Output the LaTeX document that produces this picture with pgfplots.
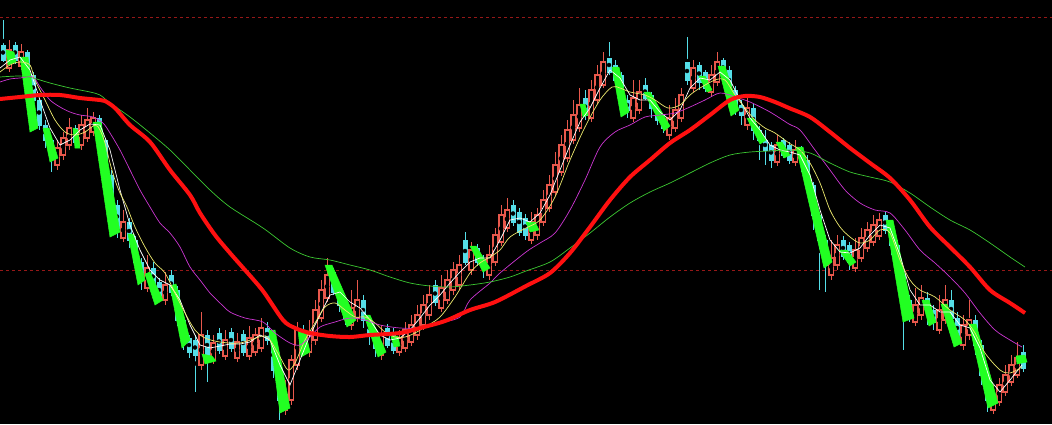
\documentclass[border=0pt]{standalone}
\usepackage{pgfplots}
\pgfplotsset{compat=1.18}
\usepackage{pgfplotstable}

\definecolor{candleup}{RGB}{232,88,76}
\definecolor{candledn}{RGB}{84,222,232}
\definecolor{band}{RGB}{34,255,34}
\definecolor{maw}{RGB}{255,255,255}
\definecolor{may}{RGB}{236,232,110}
\definecolor{mam}{RGB}{204,54,210}
\definecolor{mag}{RGB}{60,200,50}
\definecolor{mar}{RGB}{255,16,16}
\definecolor{level}{RGB}{150,24,24}

% rising candles (open, close, high, low in chart units, y grows downward)
\pgfplotstableread{
x o c h l
9 68 50 40 72
21 66 52 44 70
57 165 148 140 170
63 155 138 132 160
69 145 128 118 150
81 145 125 115 150
87 138 120 108 142
93 132 118 112 136
123 238 222 210 242
147 288 268 255 292
165 300 285 272 305
201 365 335 312 370
213 360 343 335 364
225 356 340 330 360
237 358 342 333 362
249 356 338 326 360
255 352 335 328 356
261 348 328 318 352
285 410 395 380 415
291 400 360 355 405
297 365 330 322 370
309 352 335 320 357
315 340 310 300 345
321 318 290 280 322
327 298 275 258 302
351 325 308 290 330
357 318 300 280 322
381 355 335 325 360
399 352 338 330 356
405 348 330 322 352
411 342 325 315 346
417 335 315 305 340
423 325 305 295 330
429 315 295 285 320
441 308 288 275 312
447 300 280 270 304
453 290 270 262 295
459 285 265 255 290
471 270 250 242 275
489 275 255 245 280
495 262 235 228 266
501 242 215 205 246
507 228 210 198 232
531 240 222 212 244
537 235 215 208 240
543 222 200 190 226
549 208 185 175 212
555 192 165 152 196
561 172 145 135 176
567 158 130 120 162
573 140 115 100 144
579 128 105 88 132
591 118 90 80 122
597 100 75 65 104
603 85 62 52 88
633 118 98 80 122
639 110 92 80 114
669 135 118 105 140
675 128 110 98 132
681 118 95 88 122
693 88 68 60 92
711 92 75 65 96
717 82 62 52 86
747 125 108 98 130
777 162 145 135 166
795 162 150 140 166
831 275 258 240 280
837 265 245 235 270
855 268 250 238 272
861 258 238 228 262
867 248 230 222 252
873 242 225 215 246
879 236 220 213 240
915 322 305 288 326
921 315 298 285 320
939 330 310 295 334
945 320 300 285 324
963 345 325 315 350
969 335 320 300 340
993 410 395 385 414
999 402 385 378 406
1005 392 375 365 396
1011 382 365 355 386
1017 375 358 342 378
}\upc

% falling candles
\pgfplotstableread{
x o c h l
3 45 60 20 62
15 45 60 42 64
27 52 75 50 78
33 75 100 72 104
39 100 125 98 130
45 125 140 120 148
51 140 155 138 172
75 128 142 125 148
99 118 140 115 145
105 140 175 138 178
111 175 205 170 210
117 205 228 200 238
129 222 240 218 248
135 240 262 236 268
141 262 280 258 290
153 268 285 262 298
159 282 298 278 302
171 275 292 270 296
177 290 320 286 326
183 320 342 318 350
189 338 352 335 358
195 340 355 335 392
207 335 355 330 382
219 333 350 328 354
231 332 348 328 352
243 334 352 330 356
267 328 340 322 345
273 340 370 336 378
279 370 400 366 420
303 330 345 325 356
333 272 292 268 295
339 290 305 286 312
345 305 318 300 325
363 300 320 295 328
369 320 335 316 345
375 335 348 330 357
387 328 345 324 348
393 332 350 328 354
435 285 302 280 306
465 240 262 232 265
477 248 262 244 266
483 260 268 255 278
513 205 222 200 226
519 212 232 208 236
525 218 235 214 240
585 98 115 90 120
609 58 72 42 75
615 65 80 60 85
621 75 100 72 110
627 100 110 95 118
645 85 98 78 100
651 95 108 92 118
657 108 120 105 125
663 120 128 115 133
687 62 80 37 85
699 65 82 62 90
705 72 88 70 92
723 60 75 58 80
729 70 90 66 95
735 90 105 86 115
741 105 115 100 125
753 108 130 104 140
759 130 140 126 160
765 140 150 130 165
771 145 160 142 168
783 140 155 138 158
789 145 160 142 164
801 150 160 146 172
807 160 185 155 195
813 185 215 182 230
819 215 240 212 290
825 240 265 235 292
843 240 256 236 260
849 245 262 242 270
885 215 230 212 234
891 225 245 220 255
897 245 275 240 285
903 275 300 270 350
909 300 315 295 322
927 298 310 292 325
933 310 322 305 330
951 300 318 290 328
957 318 338 312 345
975 320 345 315 355
981 345 375 340 385
987 375 400 370 412
1023 352 368 345 372
}\dnc

\pgfplotsset{
  wick/.style={only marks, mark=none,
    error bars/.cd, y dir=both, y explicit, error mark=none,
    error bar style={line width=1pt, draw=#1}},
  body/.style 2 args={only marks, mark=none,
    error bars/.cd, y dir=both, y explicit, error mark=none,
    error bar style={line width=#2, draw=#1}},
  bandfill/.style={fill=band, draw=band, line width=0.5pt, mark=none},
}

\begin{document}
\begin{tikzpicture}
\begin{axis}[
  scale only axis, width=1052pt, height=424pt,
  xmin=0, xmax=1052, ymin=0, ymax=424, y dir=reverse,
  hide axis, clip=true, no markers, clip marker paths=true,
]
\fill[black] (axis cs:0,0) rectangle (axis cs:1052,424);

% price levels
\addplot[level, line width=0.8pt, dash pattern=on 3pt off 3pt] coordinates {(0,17) (1052,17)};
\addplot[level, line width=0.8pt, dash pattern=on 3pt off 3pt] coordinates {(0,270) (1052,270)};

% falling candles: cyan, filled
\addplot[wick=candledn] table[x=x, y expr={(\thisrow{h}+\thisrow{l})/2}, y error expr={(\thisrow{l}-\thisrow{h})/2}] \dnc;
\addplot[body={candledn}{5pt}] table[x=x, y expr={(\thisrow{o}+\thisrow{c})/2}, y error expr={abs(\thisrow{o}-\thisrow{c})/2+0.5}] \dnc;

% rising candles: red, hollow
\addplot[wick=candleup] table[x=x, y expr={(\thisrow{h}+\thisrow{l})/2}, y error expr={(\thisrow{l}-\thisrow{h})/2}] \upc;
\addplot[body={candleup}{5.4pt}] table[x=x, y expr={(\thisrow{o}+\thisrow{c})/2}, y error expr={abs(\thisrow{o}-\thisrow{c})/2+0.6}] \upc;
\addplot[body={black}{3pt}] table[x=x, y expr={(\thisrow{o}+\thisrow{c})/2}, y error expr={max(abs(\thisrow{o}-\thisrow{c})/2-0.6,0)}] \upc;

% selling-pressure bands
\addplot[bandfill] coordinates {(6,50) (14,52) (16,62) (8,65)} -- cycle;
\addplot[bandfill] coordinates {(20,57) (28,57) (38,128) (30,132)} -- cycle;
\addplot[bandfill] coordinates {(43,128) (49,128) (58,158) (50,162)} -- cycle;
\addplot[bandfill] coordinates {(73,128) (78,130) (80,148) (75,148)} -- cycle;
\addplot[bandfill] coordinates {(93,122) (101,122) (120,232) (110,237)} -- cycle;
\addplot[bandfill] coordinates {(128,234) (134,234) (145,280) (138,285)} -- cycle;
\addplot[bandfill] coordinates {(145,274) (150,272) (163,300) (155,305)} -- cycle;
\addplot[bandfill] coordinates {(170,286) (176,284) (190,340) (182,348)} -- cycle;
\addplot[bandfill] coordinates {(202,354) (212,356) (216,361) (205,364)} -- cycle;
\addplot[bandfill] coordinates {(269,330) (275,330) (290,408) (280,413)} -- cycle;
\addplot[bandfill] coordinates {(298,330) (305,330) (310,352) (301,357)} -- cycle;
\addplot[bandfill] coordinates {(325,265) (332,265) (356,320) (347,327)} -- cycle;
\addplot[bandfill] coordinates {(364,315) (370,315) (386,352) (378,357)} -- cycle;
\addplot[bandfill] coordinates {(391,336) (398,336) (400,346) (394,347)} -- cycle;
\addplot[bandfill] coordinates {(470,246) (476,246) (490,268) (483,272)} -- cycle;
\addplot[bandfill] coordinates {(526,222) (535,222) (539,230) (530,232)} -- cycle;
\addplot[bandfill] coordinates {(580,104) (585,104) (588,115) (583,117)} -- cycle;
\addplot[bandfill] coordinates {(612,67) (619,67) (629,112) (621,117)} -- cycle;
\addplot[bandfill] coordinates {(644,92) (650,92) (670,126) (664,131)} -- cycle;
\addplot[bandfill] coordinates {(699,76) (705,76) (712,90) (707,92)} -- cycle;
\addplot[bandfill] coordinates {(718,66) (725,66) (739,110) (731,116)} -- cycle;
\addplot[bandfill] coordinates {(747,118) (753,118) (766,140) (760,144)} -- cycle;
\addplot[bandfill] coordinates {(776,142) (782,142) (790,155) (784,158)} -- cycle;
\addplot[bandfill] coordinates {(796,147) (803,147) (832,262) (824,268)} -- cycle;
\addplot[bandfill] coordinates {(839,250) (847,250) (856,262) (850,266)} -- cycle;
\addplot[bandfill] coordinates {(886,220) (893,220) (914,318) (903,322)} -- cycle;
\addplot[bandfill] coordinates {(922,300) (929,300) (936,322) (929,326)} -- cycle;
\addplot[bandfill] coordinates {(941,304) (947,304) (962,343) (954,347)} -- cycle;
\addplot[bandfill] coordinates {(969,324) (976,324) (998,403) (988,408)} -- cycle;
\addplot[bandfill] coordinates {(1016,356) (1025,355) (1027,362) (1017,364)} -- cycle;

% MA5
\addplot[maw, line width=0.7pt] coordinates {
(0,68)(10,60)(20,57)(30,70)(40,100)(50,128)(60,145)(70,140)(80,130)(90,124)
(100,125)(110,150)(120,190)(130,225)(140,250)(150,270)(160,280)(170,285)(180,300)(190,325)
(200,345)(210,348)(220,346)(230,344)(240,344)(250,342)(260,335)(270,340)(280,365)(290,385)
(300,360)(310,335)(320,315)(330,295)(340,292)(350,302)(360,308)(370,320)(380,335)(390,340)
(400,338)(410,330)(420,318)(430,305)(440,295)(450,283)(460,272)(470,262)(480,258)(490,258)
(500,240)(510,220)(520,218)(530,222)(540,213)(550,195)(560,170)(570,145)(580,122)(590,108)
(600,88)(610,70)(620,78)(630,95)(640,100)(650,100)(660,112)(670,120)(680,110)(690,88)
(700,78)(710,80)(720,72)(730,80)(740,100)(750,118)(760,130)(770,145)(780,150)(790,152)
(800,155)(810,175)(820,210)(830,240)(840,252)(850,253)(860,248)(870,235)(880,225)(890,228)
(900,255)(910,290)(920,305)(930,305)(940,312)(950,312)(960,325)(970,328)(980,348)(990,380)
(1000,392)(1010,380)(1022,365)};

% MA10
\addplot[may, line width=0.7pt, smooth] coordinates {
(0,72)(10,65)(20,62)(30,65)(35,80)(45,100)(55,120)(65,132)(75,135)(85,132)
(95,125)(100,130)(105,143)(110,163)(115,180)(120,193)(127,207)(135,227)(145,247)(155,263)
(165,273)(175,293)(185,313)(195,330)(205,338)(220,342)(240,343)(263,336)(270,340)(280,357)
(288,370)(295,363)(305,340)(315,323)(325,307)(335,303)(345,310)(355,317)(365,317)(375,323)
(385,332)(395,337)(405,337)(415,333)(425,327)(440,317)(455,297)(470,273)(480,263)(490,257)
(500,250)(510,237)(526,228)(540,220)(555,197)(570,160)(585,127)(600,100)(612,87)(620,88)
(630,92)(645,95)(655,100)(668,108)(680,105)(690,95)(700,88)(715,80)(725,80)(735,95)
(745,108)(755,120)(765,128)(775,133)(789,143)(800,150)(810,163)(820,183)(830,210)(840,227)
(850,237)(860,243)(870,240)(880,230)(890,233)(900,260)(910,280)(920,290)(935,297)(950,310)
(965,320)(975,333)(985,353)(1000,370)(1010,373)(1022,367)};

% MA20
\addplot[mam, line width=0.7pt, smooth] coordinates {
(0,82)(10,79)(20,78)(33,77)(40,87)(50,100)(60,107)(70,112)(80,115)(93,117)
(103,123)(110,133)(120,150)(130,170)(140,190)(150,207)(160,223)(170,233)(180,247)(190,267)
(200,280)(210,293)(220,303)(230,312)(245,318)(263,322)(275,333)(290,343)(300,345)(310,337)
(320,327)(335,322)(350,318)(365,320)(380,325)(400,328)(420,328)(440,323)(460,317)(470,300)
(490,283)(500,273)(526,252)(540,243)(555,233)(570,210)(585,180)(600,147)(615,132)(630,125)
(645,117)(660,115)(675,113)(690,107)(705,100)(720,93)(735,97)(750,102)(770,112)(789,124)
(800,130)(815,150)(830,170)(845,190)(860,203)(875,210)(890,213)(905,230)(920,250)(935,263)
(950,277)(965,293)(980,313)(995,330)(1010,340)(1022,347)};

% MA60
\addplot[mag, line width=0.7pt, smooth] coordinates {
(0,77)(20,76)(33,78)(50,83)(70,88)(90,92)(100,95)(110,103)(130,117)(150,133)
(170,150)(190,170)(210,190)(230,207)(263,228)(290,248)(310,257)(330,260)(350,265)(370,270)
(390,277)(410,283)(430,286)(450,287)(470,285)(490,282)(510,277)(526,271)(550,262)(570,248)
(590,233)(610,217)(630,203)(650,192)(670,183)(690,173)(710,163)(730,155)(750,152)(770,151)
(789,150)(810,153)(830,163)(850,172)(870,177)(890,182)(910,193)(930,207)(950,220)(970,230)
(990,243)(1010,257)(1025,267)};

% long-term average
\addplot[mar, line width=4pt, smooth] coordinates {
(0,99)(20,97)(40,95)(60,95)(80,98)(100,100)(105,101)(115,108)(130,125)(150,142)
(170,170)(190,195)(200,213)(215,235)(230,253)(245,270)(263,291)(283,320)(295,328)(310,333)
(330,336)(350,337)(370,335)(400,333)(420,328)(445,321)(470,310)(495,302)(526,286)(550,273)
(570,253)(590,227)(610,200)(630,177)(650,160)(670,143)(690,130)(710,115)(730,100)(745,96)
(760,97)(775,102)(789,108)(810,117)(830,132)(850,148)(870,163)(890,178)(910,200)(930,227)
(950,247)(970,267)(990,290)(1010,303)(1025,313)};

\end{axis}
\end{tikzpicture}
\end{document}
